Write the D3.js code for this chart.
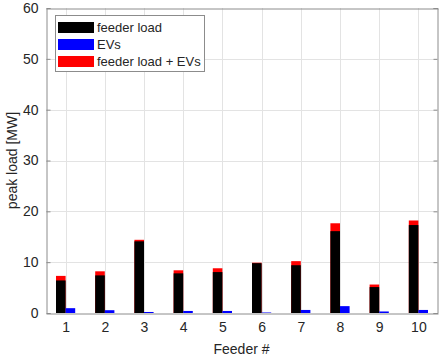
<!DOCTYPE html>
<html lang="en">
  <head>
    <meta charset="UTF-8" />
    <title>Peak load per feeder</title>
    <script src="https://d3js.org/d3.v7.min.js"></script>
    <style>
      body { margin: 0; background: #fff; }
      text { font-family: Arial, "Liberation Sans", sans-serif; fill: #262626; }
    </style>
  </head>
  <body>
    <div id="chart"></div>
    <script>
      // values
      const feeders = [1, 2, 3, 4, 5, 6, 7, 8, 9, 10];
      const feederLoad = [6.4, 7.4, 14.1, 7.8, 8.05, 9.8, 9.4, 16.1, 5.1, 17.3];
      const evLoad = [0.95, 0.55, 0.2, 0.4, 0.4, 0.1, 0.6, 1.35, 0.3, 0.6];
      const combined = [7.3, 8.2, 14.4, 8.4, 8.8, 9.9, 10.2, 17.65, 5.6, 18.2];
      const yTicks = [0, 10, 20, 30, 40, 50, 60];
      const legendLabels = ["feeder load", "EVs", "feeder load + EVs"];
      const legendColors = ["#000000", "#0000ff", "#ff0000"];

      const width = 442, height = 358;
      const margin = { top: 8, right: 5, bottom: 45, left: 46 };

      const svg = d3.select("#chart").append("svg")
        .attr("width", width)
        .attr("height", height);

      const x = d3.scaleLinear().domain([0.5, 10.5])
        .range([margin.left, width - margin.right + 1]);
      const y = d3.scaleLinear().domain([0, 60])
        .range([height - margin.bottom, margin.top]);

      const barW = 9.6;
      const x0 = margin.left, x1 = width - margin.right;
      const y0 = y(0), y1 = y(60);

      // grid
      const grid = svg.append("g").attr("stroke", "#e3e3e3").attr("stroke-width", 1);
      grid.selectAll(".gy").data(yTicks.slice(1, -1)).enter().append("line")
        .attr("x1", x0).attr("x2", x1)
        .attr("y1", d => Math.round(y(d)) + 0.5).attr("y2", d => Math.round(y(d)) + 0.5);
      grid.selectAll(".gx").data(feeders).enter().append("line")
        .attr("y1", y0).attr("y2", y1)
        .attr("x1", d => Math.round(x(d)) + 0.5).attr("x2", d => Math.round(x(d)) + 0.5);

      // bars: red total behind, black feeder load in front, blue EVs to the right
      svg.append("g").selectAll("rect").data(feeders).enter().append("rect")
        .attr("x", d => x(d) - barW).attr("width", barW)
        .attr("y", (d, i) => y(combined[i])).attr("height", (d, i) => y0 - y(combined[i]))
        .attr("fill", "#ff0000");
      svg.append("g").selectAll("rect").data(feeders).enter().append("rect")
        .attr("x", d => x(d) - barW).attr("width", barW)
        .attr("y", (d, i) => y(feederLoad[i])).attr("height", (d, i) => y0 - y(feederLoad[i]))
        .attr("fill", "#000000");
      svg.append("g").selectAll("rect").data(feeders).enter().append("rect")
        .attr("x", d => x(d)).attr("width", barW)
        .attr("y", (d, i) => y(evLoad[i])).attr("height", (d, i) => y0 - y(evLoad[i]))
        .attr("fill", "#0000ff");

      // axes
      const axisColor = "#8c8c8c";
      const yAxis = svg.append("g")
        .attr("transform", `translate(${x0 + 0.5},0)`)
        .call(d3.axisLeft(y).tickValues(yTicks).tickSize(-4).tickPadding(8));
      yAxis.selectAll("text").attr("font-size", 14).attr("fill", "#262626");
      const yAxisR = svg.append("g")
        .attr("transform", `translate(${x1 + 0.5},0)`)
        .call(d3.axisRight(y).tickValues(yTicks).tickSize(-4).tickFormat(""));
      const xAxis = svg.append("g")
        .attr("transform", `translate(0,${y0 + 0.5})`)
        .call(d3.axisBottom(x).tickValues(feeders).tickSize(0).tickPadding(9));
      xAxis.selectAll("text").attr("font-size", 14).attr("fill", "#262626");
      const xAxisT = svg.append("g")
        .attr("transform", `translate(0,${y1 + 0.5})`)
        .call(d3.axisTop(x).tickValues(feeders).tickSize(0).tickFormat(""));
      [yAxis, yAxisR, xAxis, xAxisT].forEach(g => {
        g.select(".domain").attr("stroke", axisColor);
        g.selectAll(".tick line").attr("stroke", axisColor);
      });

      // labels
      svg.append("text")
        .attr("transform", `translate(17,${(y0 + y1) / 2}) rotate(-90)`)
        .attr("text-anchor", "middle")
        .attr("font-size", 14)
        .text("peak load [MW]");
      svg.append("text")
        .attr("x", (x0 + x1) / 2).attr("y", 354)
        .attr("text-anchor", "middle")
        .attr("font-size", 14)
        .text("Feeder #");

      // legend
      const legend = svg.append("g").attr("transform", "translate(55,15)");
      legend.append("rect")
        .attr("x", 0.5).attr("y", 0.5).attr("width", 149).attr("height", 56)
        .attr("fill", "#fff").attr("stroke", "#8c8c8c");
      const items = legend.selectAll(".item").data(legendLabels).enter().append("g")
        .attr("transform", (d, i) => `translate(0,${12.5 + i * 17})`);
      items.append("rect")
        .attr("x", 3).attr("y", -5.5).attr("width", 36).attr("height", 11)
        .attr("fill", (d, i) => legendColors[i]);
      items.append("text")
        .attr("x", 42).attr("y", 4.5)
        .attr("font-size", 13)
        .attr("fill", "#000")
        .text(d => d);
    </script>
  </body>
</html>
